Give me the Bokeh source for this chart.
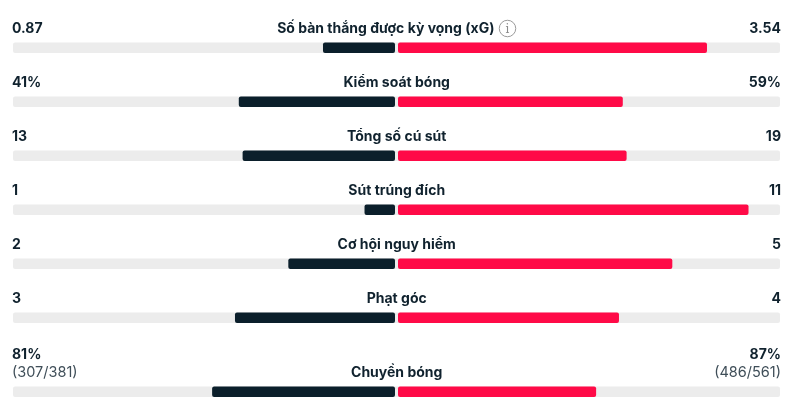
from bokeh.plotting import figure
from bokeh.models import Range1d
from bokeh.core.properties import value
from bokeh.embed import file_html
from bokeh.resources import INLINE

categories = ["Số bàn thắng được kỳ vọng (xG)", "Kiểm soát bóng", "Tổng số cú sút", "Sút trúng đích",
              "Cơ hội nguy hiểm", "Phạt góc", "Chuyền bóng"]
home_labels = ["0.87", "41%", "13", "1", "2", "3", "81%"]
away_labels = ["3.54", "59%", "19", "11", "5", "4", "87%"]
home_share = [18.9, 41.0, 40.0, 8.0, 28.0, 42.0, 48.0]
away_share = [81.1, 59.0, 60.0, 92.0, 72.0, 58.0, 52.0]
home_detail = "(307/381)"
away_detail = "(486/561)"

W, H = 800, 400
CENTER = 396
GAP = 1.5
PX_PER_PCT = 3.81
TRACK_L, TRACK_R = 12.5, 779.5
track_top = [42, 96, 150, 204, 258, 312, 386]
label_y = [27, 81, 135, 189, 243, 297, 371]
side_y = [27, 81, 135, 189, 243, 297, 353]
BAR_H = 10.5

DARK = "#0b1f2b"
RED = "#ff0a47"
TRACK = "#ececec"
FONT = value("Inter")

p = figure(width=W, height=H, output_backend="svg", toolbar_location=None,
           x_range=Range1d(0, W), y_range=Range1d(H, 0), min_border=0,
           outline_line_color=None, background_fill_color="white", border_fill_color="white",
           styles={"position": "fixed", "left": "0px", "top": "0px"})
p.axis.visible = False
p.grid.visible = False

tops = track_top
bots = [t + BAR_H for t in tops]
p.quad(left=[TRACK_L] * 7, right=[TRACK_R] * 7, top=tops, bottom=bots,
       fill_color=TRACK, line_color=None, border_radius=2)
p.quad(left=[CENTER - GAP - s * PX_PER_PCT for s in home_share], right=[CENTER - GAP] * 7,
       top=tops, bottom=bots, fill_color=DARK, line_color=None, border_radius=2)
p.quad(left=[CENTER + GAP] * 7, right=[CENTER + GAP + s * PX_PER_PCT for s in away_share],
       top=tops, bottom=bots, fill_color=RED, line_color=None, border_radius=2)

kw = dict(text_font=FONT, text_font_size="14px", text_font_style="bold", text_baseline="middle",
          text_color="#10222e")
center_x = [CENTER + 0.2] * 7
center_x[0] = 385.3
p.text(x=center_x, y=label_y, text=categories, text_align="center", **kw)
p.text(x=[11.5] * 7, y=side_y, text=home_labels, text_align="left", **kw)
p.text(x=[780.5] * 7, y=side_y, text=away_labels, text_align="right", **kw)

kw2 = dict(text_font=FONT, text_font_size="14.5px", text_baseline="middle", text_color="#3f4e58")
p.text(x=[11.5], y=[371], text=[home_detail], text_align="left", **kw2)
p.text(x=[780.5], y=[371], text=[away_detail], text_align="right", **kw2)

# info icon
p.scatter(x=[507], y=[28], size=16.5, marker="circle", fill_color="white",
          line_color="#9a9a9a", line_width=1)
p.text(x=[507], y=[28], text=["i"], text_align="center", text_baseline="middle",
       text_font=value("DejaVu Serif"), text_font_size="12px", text_color="#8a8a8a")

open("out.html", "w").write(file_html(p, INLINE))
